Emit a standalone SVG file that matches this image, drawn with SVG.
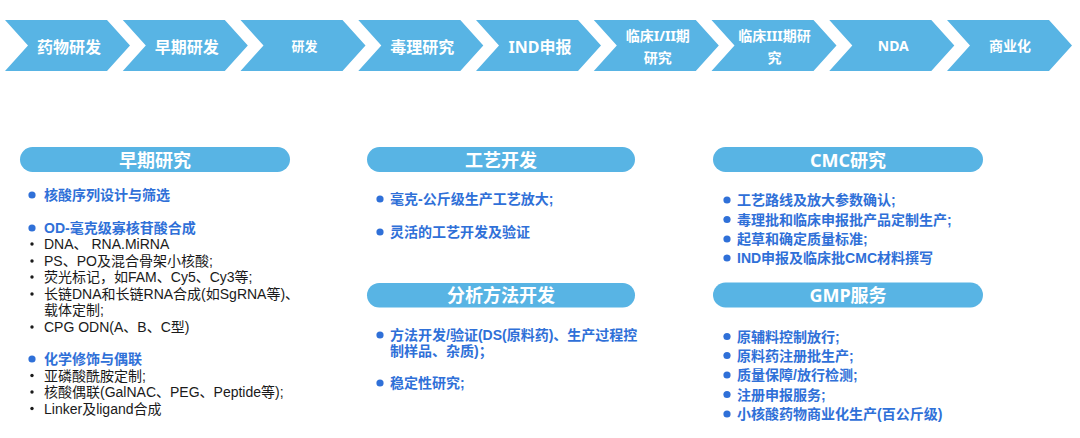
<svg xmlns="http://www.w3.org/2000/svg" xmlns:xlink="http://www.w3.org/1999/xlink" width="1080" height="438" viewBox="0 0 1080 438">
<style>
.chev{fill:#58B4E4;}
.ct{font-family:"Noto Sans","Noto Sans CJK SC",sans-serif;font-weight:bold;fill:#ffffff;text-anchor:middle;}
.pill{fill:#58B4E4;}
.ph{font-family:"Noto Sans","Noto Sans CJK SC",sans-serif;font-weight:bold;font-size:18px;fill:#ffffff;text-anchor:middle;}
.bt{font-family:"Liberation Sans","Noto Sans CJK SC",sans-serif;font-weight:bold;font-size:14px;fill:#2F70D8;}
.nt{font-family:"Liberation Sans","Noto Sans CJK SC",sans-serif;font-size:14px;fill:#1a1a1a;}
.bb{fill:#2F70D8;}
.nb{fill:#1a1a1a;}
</style>
<defs>
<polygon id="chevshape" points="0,20 102,20 125,45.5 102,71 0,71 23,45.5"/>
</defs>
<rect width="1080" height="438" fill="#ffffff"/>

<g id="stages">
<g id="s1" transform="translate(5,0)"><use xlink:href="#chevshape" class="chev"/><text class="ct" x="64" y="52.5" font-size="16">药物研发</text></g>
<g id="s2" transform="translate(122.8,0)"><use xlink:href="#chevshape" class="chev"/><text class="ct" x="64" y="52.5" font-size="16">早期研发</text></g>
<g id="s3" transform="translate(240.5,0)"><use xlink:href="#chevshape" class="chev"/><text class="ct" x="64" y="51" font-size="13">研发</text></g>
<g id="s4" transform="translate(358.3,0)"><use xlink:href="#chevshape" class="chev"/><text class="ct" x="64" y="52.5" font-size="16">毒理研究</text></g>
<g id="s5" transform="translate(476,0)"><use xlink:href="#chevshape" class="chev"/><text class="ct" x="64" y="52.5" font-size="16">IND申报</text></g>
<g id="s6" transform="translate(593.8,0)"><use xlink:href="#chevshape" class="chev"/><text class="ct" x="64" y="41" font-size="14">临床I/II期</text><text class="ct" x="64" y="63" font-size="14">研究</text></g>
<g id="s7" transform="translate(711.5,0)"><use xlink:href="#chevshape" class="chev"/><text class="ct" x="63" y="41" font-size="14">临床III期研</text><text class="ct" x="63" y="63" font-size="14">究</text></g>
<g id="s8" transform="translate(829.3,0)"><use xlink:href="#chevshape" class="chev"/><text class="ct" x="64" y="51" font-size="14">NDA</text></g>
<g id="s9" transform="translate(947,0)"><use xlink:href="#chevshape" class="chev"/><text class="ct" x="63" y="51" font-size="14">商业化</text></g>
</g>

<g id="connectors"></g>

<g id="early">
<rect class="pill" x="20" y="147" width="270" height="25" rx="12.5"/>
<text class="ph" x="155" y="166.5">早期研究</text>
<circle class="bb" cx="32" cy="195" r="3.6"/><text class="bt" x="44" y="200">核酸序列设计与筛选</text>
<circle class="bb" cx="32" cy="228" r="3.6"/><text class="bt" x="44" y="233">OD-毫克级寡核苷酸合成</text>
<circle class="nb" cx="32" cy="244" r="1.7"/><text class="nt" x="44" y="249">DNA、 RNA.MiRNA</text>
<circle class="nb" cx="32" cy="261" r="1.7"/><text class="nt" x="44" y="266">PS、PO及混合骨架小核酸;</text>
<circle class="nb" cx="32" cy="277" r="1.7"/><text class="nt" x="44" y="282">荧光标记，如FAM、Cy5、Cy3等;</text>
<circle class="nb" cx="32" cy="294" r="1.7"/><text class="nt" x="44" y="299">长链DNA和长链RNA合成(如SgRNA等)、</text>
<text class="nt" x="44" y="315">载体定制;</text>
<circle class="nb" cx="32" cy="327" r="1.7"/><text class="nt" x="44" y="332">CPG ODN(A、B、C型)</text>
<circle class="bb" cx="32" cy="359" r="3.6"/><text class="bt" x="44" y="364">化学修饰与偶联</text>
<circle class="nb" cx="32" cy="375.5" r="1.7"/><text class="nt" x="44" y="380.5">亚磷酸酰胺定制;</text>
<circle class="nb" cx="32" cy="392" r="1.7"/><text class="nt" x="44" y="397">核酸偶联(GalNAC、PEG、Peptide等);</text>
<circle class="nb" cx="32" cy="408.5" r="1.7"/><text class="nt" x="44" y="413.5">Linker及ligand合成</text>
</g>

<g id="process">
<rect class="pill" x="367" y="147" width="268" height="25" rx="12.5"/>
<text class="ph" x="501" y="166.5">工艺开发</text>
<circle class="bb" cx="380" cy="199" r="3.6"/><text class="bt" x="390" y="204">毫克-公斤级生产工艺放大;</text>
<circle class="bb" cx="380" cy="232" r="3.6"/><text class="bt" x="390" y="237">灵活的工艺开发及验证</text>
</g>

<g id="analysis">
<rect class="pill" x="367" y="283" width="268" height="24.5" rx="12.25"/>
<text class="ph" x="501" y="302">分析方法开发</text>
<circle class="bb" cx="380" cy="335" r="3.6"/><text class="bt" x="390" y="339.5">方法开发/验证(DS(原料药)、生产过程控</text>
<text class="bt" x="390" y="355.5">制样品、杂质)；</text>
<circle class="bb" cx="380" cy="383" r="3.6"/><text class="bt" x="390" y="388">稳定性研究;</text>
</g>

<g id="cmc">
<rect class="pill" x="713" y="147" width="270" height="25" rx="12.5"/>
<text class="ph" x="848" y="166.5">CMC研究</text>
<circle class="bb" cx="727" cy="200" r="3.6"/><text class="bt" x="737" y="205">工艺路线及放大参数确认;</text>
<circle class="bb" cx="727" cy="219.5" r="3.6"/><text class="bt" x="737" y="224.5">毒理批和临床申报批产品定制生产;</text>
<circle class="bb" cx="727" cy="239" r="3.6"/><text class="bt" x="737" y="244">起草和确定质量标准;</text>
<circle class="bb" cx="727" cy="258" r="3.6"/><text class="bt" x="737" y="263">IND申报及临床批CMC材料撰写</text>
</g>

<g id="gmp">
<rect class="pill" x="713" y="282.5" width="270" height="25" rx="12.5"/>
<text class="ph" x="848" y="302">GMP服务</text>
<circle class="bb" cx="727" cy="336.5" r="3.6"/><text class="bt" x="737" y="341.5">原辅料控制放行;</text>
<circle class="bb" cx="727" cy="355.5" r="3.6"/><text class="bt" x="737" y="360.5">原料药注册批生产;</text>
<circle class="bb" cx="727" cy="375" r="3.6"/><text class="bt" x="737" y="380">质量保障/放行检测;</text>
<circle class="bb" cx="727" cy="394.5" r="3.6"/><text class="bt" x="737" y="399.5">注册申报服务;</text>
<circle class="bb" cx="727" cy="414" r="3.6"/><text class="bt" x="737" y="419">小核酸药物商业化生产(百公斤级)</text>
</g>
</svg>
